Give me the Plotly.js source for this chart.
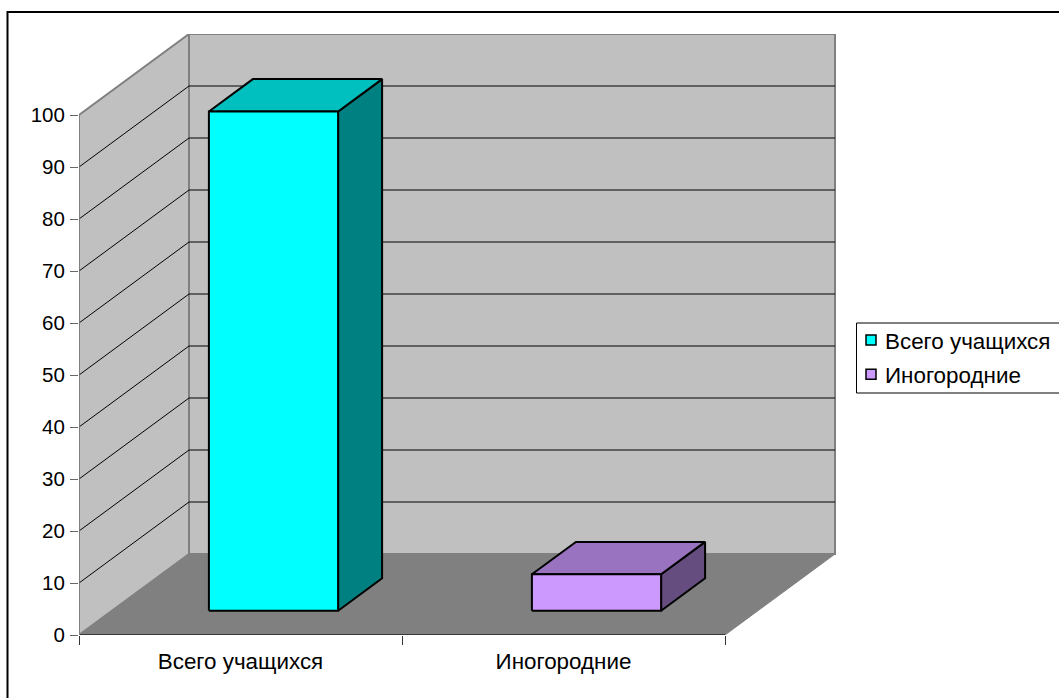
<!DOCTYPE html>
<html><head><meta charset="utf-8">
<script src="https://cdn.plot.ly/plotly-3.0.1.min.js"></script>
<style>html,body{margin:0;padding:0;background:#fff;overflow:hidden}#c{width:1059px;height:698px}</style>
</head><body><div id="c"></div>
<script>
const categories = ["Всего учащихся", "Иногородние"];
const seriesValues = [[96, 0], [0, 7]];
const seriesNames = ["Всего учащихся", "Иногородние"];
const yTicks = [0,10,20,30,40,50,60,70,80,90,100];

const frontColors = ["#00FFFF", "#CC99FF"];
const topColors = ["#00BFBF", "#9973BF"];
const sideColors = ["#008080", "#664D80"];

// plot geometry (pixels)
const L = 79, R = 836, T = 34, B = 635, W = 1059, H = 698;
const catPx = 323, unitPx = 5.2, depthPxX = 110, depthPxY = 81;
const DX = depthPxX / catPx, DY = depthPxY / unitPx;
const nCat = categories.length, vMax = 100;
const barHalf = 0.2, dFront = 0.3, dBack = 0.7;

const P = (c, v, d) => [c + d * DX, v + d * DY];
const traces = [];
function poly(points, fill, lineColor, lineWidth) {
  traces.push({type:"scatter", mode:"lines", x:points.map(p=>p[0]), y:points.map(p=>p[1]),
    fill: fill ? "toself" : "none", fillcolor: fill || undefined,
    line:{color:lineColor, width:lineWidth, simplify:false}, hoverinfo:"skip", showlegend:false, cliponaxis:false});
}
const closed = a => a.concat([a[0]]);

// walls
poly(closed([P(0,0,0),P(0,0,1),P(0,vMax,1),P(0,vMax,0)]), "#C0C0C0", "#808080", 2);
poly(closed([P(0,0,1),P(nCat,0,1),P(nCat,vMax,1),P(0,vMax,1)]), "#C0C0C0", "#808080", 2);
// gridlines
yTicks.filter(v => v > 0 && v < vMax).forEach(v => {
  poly([P(0,v,0),P(0,v,1),P(nCat,v,1)], null, "#000000", 1);
});
// floor
poly(closed([P(0,0,0),P(nCat,0,0),P(nCat,0,1),P(0,0,1)]), "#808080", "#808080", 1);
poly([P(0,0,0),P(nCat,0,0)], null, "#222222", 1.5);
poly([P(0,0,0),P(0,vMax,0)], null, "#808080", 1.5);

// bars
categories.forEach((cat, i) => {
  const v = seriesValues[i][i];
  const x0 = i + 0.5 - barHalf, x1 = i + 0.5 + barHalf;
  poly(closed([P(x1,0,dFront),P(x1,0,dBack),P(x1,v,dBack),P(x1,v,dFront)]), sideColors[i], "#000", 2);
  poly(closed([P(x0,v,dFront),P(x1,v,dFront),P(x1,v,dBack),P(x0,v,dBack)]), topColors[i], "#000", 2);
  poly(closed([P(x0,0,dFront),P(x1,0,dFront),P(x1,v,dFront),P(x0,v,dFront)]), frontColors[i], "#000", 2);
});

// legend entries
seriesNames.forEach((n, i) => {
  traces.push({type:"scatter", mode:"markers", name:n, x:[null], y:[null], legendgroup:"g"+i,
    marker:{symbol:"square", size:10, color:frontColors[i], line:{color:"#000", width:1.5}}, hoverinfo:"skip"});
});
// axis carrying category tick marks
traces.push({type:"scatter", mode:"markers", x:[null], y:[null], xaxis:"x2", showlegend:false, hoverinfo:"skip"});

const plotW = R - L;
const px = v => (v - L) / plotW;
const py = v => (B - v) / (B - T);
const yFont = {family:"'Liberation Sans', Arial, sans-serif", size:20.5, color:"#000"};
const font = {family:"'Liberation Sans', Arial, sans-serif", size:22.4, color:"#000"};

const layout = {
  width:W, height:H, paper_bgcolor:"#fff", plot_bgcolor:"rgba(0,0,0,0)", font:font, showlegend:true,
  margin:{l:L, r:W-R, t:T, b:H-B, pad:0, autoexpand:false},
  xaxis:{range:[0, plotW/catPx], tickmode:"array", tickvals:categories.map((c,i)=>i+0.5), ticktext:categories,
    ticks:"outside", ticklen:1, tickcolor:"rgba(0,0,0,0)", showgrid:false, zeroline:false, showline:false, ticklabelstandoff:5, tickfont:font},
  xaxis2:{overlaying:"x", range:[0, plotW/catPx], tickmode:"array", tickvals:categories.map((c,i)=>i).concat([nCat]), ticktext:["","",""],
    ticks:"outside", ticklen:9, tickwidth:1, tickcolor:"#333", showgrid:false, zeroline:false, showline:false},
  yaxis:{range:[0, (B-T)/unitPx], tickmode:"array", tickvals:yTicks, ticktext:yTicks.map(String),
    ticks:"outside", ticklen:8, tickwidth:1, tickcolor:"#666", showgrid:false, zeroline:false, showline:false, ticklabelstandoff:1, tickfont:yFont},
  legend:{x:px(845), xanchor:"left", y:py(319), yanchor:"top", bgcolor:"rgba(0,0,0,0)", borderwidth:0, tracegroupgap:2, font:font, itemclick:false, itemdoubleclick:false},
  shapes:[
    {type:"rect", xref:"paper", yref:"paper", x0:px(7.5), x1:px(1200), y0:py(12), y1:py(760), line:{color:"#000", width:2}, layer:"below"},
    {type:"rect", xref:"paper", yref:"paper", x0:px(856.5), x1:px(1200), y0:py(323), y1:py(393), line:{color:"#000", width:1}, fillcolor:"#fff", layer:"below"}
  ]
};
Plotly.newPlot("c", traces, layout, {displayModeBar:false, responsive:false}).then(() => {
  document.querySelectorAll(".legend .legendsymbols").forEach(g => g.setAttribute("transform", "translate(6,0)"));
});
</script></body></html>
